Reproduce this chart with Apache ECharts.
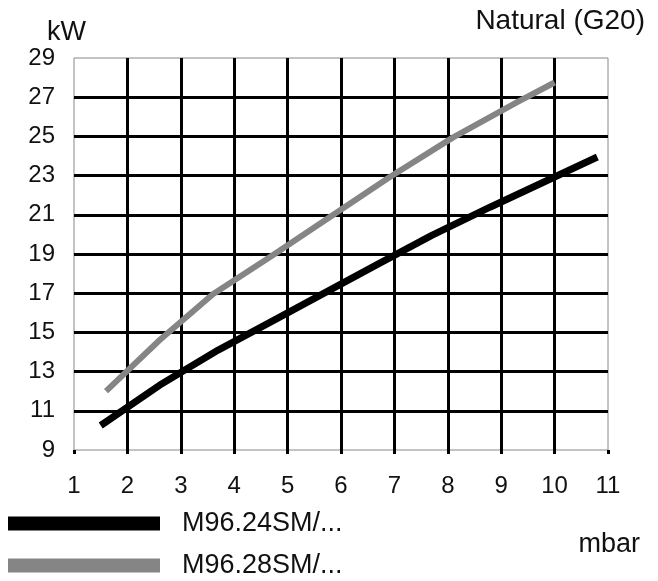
<!DOCTYPE html>
<html>
<head>
<meta charset="utf-8">
<script src="https://cdn.jsdelivr.net/npm/echarts@6/dist/echarts.min.js"></script>
<style>html,body{margin:0;padding:0;background:#fff}#c{width:658px;height:581px}</style>
</head>
<body>
<div id="c"></div>
<script>
const seriesNames = ['M96.24SM/...', 'M96.28SM/...'];
const blackX = [1.5, 2.6, 3.7, 4.8, 6.7, 7.7, 8.8, 10.8];
const blackY = [10.25, 12.3, 14.1, 15.7, 18.5, 19.95, 21.4, 23.95];
const grayX = [1.6, 2.6, 3.6, 4.7, 6.9, 8.1, 9.3, 10.0];
const grayY = [12.0, 14.6, 16.95, 18.9, 22.9, 24.95, 26.75, 27.75];
const xTicks = [1, 2, 3, 4, 5, 6, 7, 8, 9, 10, 11];
const yTicks = [9, 11, 13, 15, 17, 19, 21, 23, 25, 27, 29];

const FONT = '"Liberation Sans", Arial, Helvetica, sans-serif';
const legendBase = {
  orient: 'vertical', left: 8, padding: 0,
  itemWidth: 152, itemHeight: 14, icon: 'rect',
  textStyle: {fontSize: 27, lineHeight: 26, color: '#111', fontFamily: FONT, padding: [0, 0, 0, 17]}
};
const chart = echarts.init(document.getElementById('c'), null, {renderer: 'canvas'});
chart.setOption({
  animation: false,
  backgroundColor: '#fff',
  textStyle: {fontFamily: FONT},
  grid: {left: 74, right: 50, top: 58, bottom: 131, show: true, borderColor: '#888', borderWidth: 1, backgroundColor: 'transparent'},
  xAxis: {
    type: 'value', min: xTicks[0], max: xTicks[xTicks.length - 1], interval: 1,
    axisLine: {show: false},
    axisTick: {show: true, length: 4, lineStyle: {color: '#000', width: 3}},
    axisLabel: {fontSize: 24, color: '#111', margin: 24, fontFamily: FONT},
    splitLine: {show: true, showMinLine: false, showMaxLine: false, lineStyle: {color: '#000', width: 3}}
  },
  yAxis: {
    type: 'value', min: yTicks[0], max: yTicks[yTicks.length - 1], interval: 2,
    axisLine: {show: false},
    axisTick: {show: false},
    axisLabel: {fontSize: 24, color: '#111', margin: 19, fontFamily: FONT},
    splitLine: {show: true, showMinLine: false, showMaxLine: false, lineStyle: {color: '#000', width: 3}}
  },
  legend: [
    Object.assign({}, legendBase, {top: 510, data: [seriesNames[0]]}),
    Object.assign({}, legendBase, {top: 552, data: [seriesNames[1]]})
  ],
  graphic: [
    {type: 'text', x: 47, y: 32.5, style: {text: 'kW', fontSize: 27, fill: '#111', fontFamily: FONT, textVerticalAlign: 'middle'}},
    {type: 'text', x: 645, y: 21, style: {text: 'Natural (G20)', fontSize: 28, fill: '#111', fontFamily: FONT, textAlign: 'right', textVerticalAlign: 'middle'}},
    {type: 'text', x: 640, y: 544.5, style: {text: 'mbar', fontSize: 27, fill: '#111', fontFamily: FONT, textAlign: 'right', textVerticalAlign: 'middle'}}
  ],
  series: [
    {name: seriesNames[0], type: 'line', showSymbol: false, data: blackX.map((x, i) => [x, blackY[i]]),
     lineStyle: {color: '#000', width: 7, cap: 'butt'}, itemStyle: {color: '#000'}, z: 3},
    {name: seriesNames[1], type: 'line', showSymbol: false, data: grayX.map((x, i) => [x, grayY[i]]),
     lineStyle: {color: '#858585', width: 6, cap: 'butt'}, itemStyle: {color: '#858585'}, z: 3}
  ]
});
</script>
</body>
</html>
